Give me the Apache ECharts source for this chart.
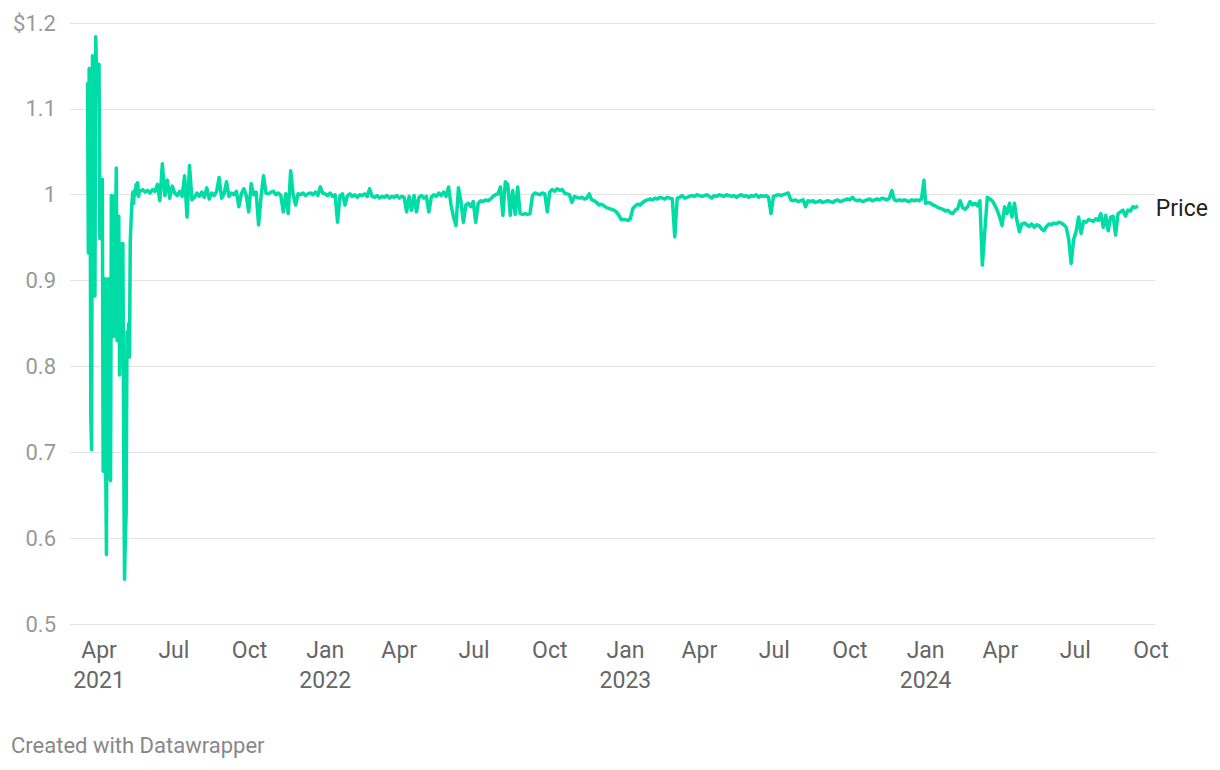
<!DOCTYPE html>
<html><head><meta charset="utf-8">
<script src="https://cdn.jsdelivr.net/npm/echarts@6/dist/echarts.min.js"></script>
<style>html,body{margin:0;padding:0;background:#fff}#c{width:1220px;height:770px}</style>
</head><body><div id="c"></div>
<script>
// ---- data ----
const seriesName = 'Price';
// daily closes, 2021-03-18 .. 2021-05-20
const dailyStart = [2021, 2, 18];
const dailyPrices = [
 1.131,0.932,1.147,1.120,0.740,0.703,1.162,1.100,1.130,0.882,1.184,1.140,1.117,1.150,
 1.152,0.949,0.960,1.000,1.018,0.678,0.750,0.902,0.700,0.581,0.850,0.902,0.700,0.673,0.667,0.999,
 0.980,0.900,0.835,0.999,0.960,1.031,0.830,0.970,0.975,0.790,0.850,0.943,0.940,0.943,
 0.700,0.552,0.600,0.630,0.840,0.820,0.850,0.811,0.946,0.970,0.990,1.003,0.990,1.005,1.000,1.012,
 1.010,1.014,0.998,1.004
];
// every 3 days from the start date of each block
const stepDays = 3;
const start2021 = [2021, 4, 21];
const prices2021 = [
 1.004,1.006,1.003,1.005,1.002,1.006,1.004,1.012,0.993,1.036,0.999,1.017,0.996,1.010,1.002,0.999,
 1.004,0.998,1.022,0.974,1.034,0.994,0.997,1.002,0.998,1.003,0.997,1.008,0.995,1.002,0.999,1.004,
 1.020,0.996,1.001,1.015,0.998,1.002,1.000,1.004,0.986,1.001,1.007,0.999,0.980,1.013,1.000,1.003,
 0.965,0.998,1.022,1.002,1.001,1.003,1.004,1.000,1.002,0.999,0.980,1.001,0.978,1.028,1.000,0.988,
 1.001,1.000,1.002,0.999,1.001,1.002,1.000,1.003,0.999,1.009,1.002
];
const start2022 = [2022, 0, 1];
const prices2022 = [
 1.001,0.999,1.002,0.998,1.000,0.968,0.999,1.001,0.988,0.999,1.001,0.998,1.000,0.997,1.000,0.999,
 1.001,0.998,1.007,0.998,0.997,0.999,0.996,0.998,0.997,0.999,0.996,0.998,0.997,0.999,0.996,0.998,
 0.997,0.980,0.998,0.982,0.999,0.980,0.997,0.999,0.996,0.998,0.980,0.997,1.000,0.998,1.002,0.999,
 1.003,0.998,1.009,0.988,0.974,0.964,1.008,0.992,0.968,0.988,0.990,0.986,0.992,0.968,0.990,0.993,
 0.992,0.994,0.993,0.995,0.998,1.000,1.001,1.009,0.976,1.015,1.012,0.976,1.005,0.977,1.009,0.978,
 0.977,0.978,0.977,0.978,0.999,1.002,1.001,1.000,1.002,1.001,0.980,1.003,1.006,1.004,1.007,1.005,
 1.006,1.002,1.001,1.000,0.991,0.998,0.997,0.996,0.997,0.995,0.996,1.001,0.994,0.993,0.991,0.988,
 0.989,0.987,0.985,0.984,0.983,0.982,0.980,0.976,0.971,0.971
];
const start2023 = [2023, 0, 1];
const prices2023 = [
 0.971,0.970,0.972,0.984,0.987,0.989,0.988,0.991,0.993,0.994,0.995,0.994,0.996,0.995,0.997,0.996,
 0.995,0.997,0.996,0.995,0.951,0.996,0.997,0.999,0.996,0.997,0.998,0.999,0.998,1.000,0.999,0.998,
 0.999,1.000,0.998,0.996,0.999,0.998,1.000,0.999,0.998,1.000,0.999,0.998,0.999,0.997,0.999,1.000,
 0.998,0.999,0.997,0.999,0.998,1.000,0.997,0.999,0.998,0.999,0.997,0.978,0.998,0.999,1.000,0.999,
 1.000,1.001,1.002,0.994,0.993,0.994,0.992,0.993,0.994,0.986,0.993,0.992,0.993,0.991,0.992,0.993,
 0.991,0.992,0.993,0.992,0.991,0.993,0.994,0.992,0.993,0.994,0.995,0.994,0.997,0.994,0.993,0.994,
 0.992,0.993,0.994,0.995,0.993,0.994,0.995,0.994,0.996,0.995,0.994,0.996,1.005,0.994,0.993,0.994,
 0.993,0.994,0.993,0.992,0.994,0.993,0.994,0.993,0.995,1.017
];
const start2024 = [2024, 0, 1];
const prices2024 = [
 0.990,0.991,0.990,0.988,0.987,0.985,0.984,0.983,0.981,0.982,0.979,0.978,0.982,0.984,0.993,0.985,
 0.983,0.986,0.992,0.988,0.990,0.987,0.993,0.918,0.958,0.997,0.995,0.993,0.988,0.982,0.974,0.964,
 0.986,0.978,0.990,0.974,0.990,0.970,0.957,0.966,0.967,0.965,0.963,0.966,0.962,0.965,0.964,0.960,
 0.958,0.963,0.966,0.965,0.967,0.966,0.968,0.967,0.965,0.962,0.948,0.920,0.948,0.957,0.974,0.955,
 0.969,0.968,0.971,0.970,0.969,0.972,0.970,0.978,0.962,0.976,0.958,0.974,0.975,0.953,0.978,0.980,
 0.982,0.975,0.982,0.981,0.986,0.985,0.987
];
// axis ticks
const xTickDates = [[2021,3,1],[2021,6,1],[2021,9,1],[2022,0,1],[2022,3,1],[2022,6,1],[2022,9,1],
 [2023,0,1],[2023,3,1],[2023,6,1],[2023,9,1],[2024,0,1],[2024,3,1],[2024,6,1],[2024,9,1]];
const xTickLabels = ['Apr\n2021','Jul','Oct','Jan\n2022','Apr','Jul','Oct','Jan\n2023','Apr','Jul','Oct','Jan\n2024','Apr','Jul','Oct'];
const yTickLabels = ['0.5','0.6','0.7','0.8','0.9','1','1.1','$1.2'];
const footerText = 'Created with Datawrapper';

// ---- build ----
function d(a, add) { return Date.UTC(a[0], a[1], a[2] + (add || 0)); }
const points = [];
dailyPrices.forEach((v, i) => points.push([d(dailyStart, i), v]));
[[start2021, prices2021], [start2022, prices2022], [start2023, prices2023], [start2024, prices2024]].forEach(([s, arr]) => {
  arr.forEach((v, i) => points.push([d(s, i * stepDays), v]));
});
const tickVals = xTickDates.map(t => d(t));
const DAY = 86400000;
const xMin = d([2021,3,1]) - 35.3 * DAY;
const xMax = d([2024,9,1]) + 4.9 * DAY;
function xLabel(v) {
  let best = 0, bd = Infinity;
  tickVals.forEach((t, i) => { const dd = Math.abs(t - v); if (dd < bd) { bd = dd; best = i; } });
  return bd < DAY ? xTickLabels[best] : '';
}

const chart = echarts.init(document.getElementById('c'), null, { renderer: 'svg' });
chart.setOption({
  animation: false,
  backgroundColor: '#fff',
  textStyle: { fontFamily: 'Roboto' },
  grid: { left: 70, right: 65, top: 23, bottom: 146, containLabel: false },
  xAxis: {
    type: 'value', min: xMin, max: xMax, scale: true,
    axisLine: { show: false }, axisTick: { show: false }, splitLine: { show: false },
    axisLabel: {
      customValues: tickVals,
      formatter: v => xLabel(v),
      color: '#666', fontSize: 23, lineHeight: 30, margin: 11, fontFamily: 'Roboto',
      showMinLabel: true, showMaxLabel: true, hideOverlap: false
    }
  },
  yAxis: {
    type: 'value', min: 0.5, max: 1.2, interval: 0.1,
    axisLine: { show: false }, axisTick: { show: false },
    splitLine: { lineStyle: { color: '#e3e3e3', width: 1 } },
    axisLabel: {
      formatter: v => yTickLabels[Math.round((v - 0.5) * 10)],
      color: '#999', fontSize: 22, margin: 14, fontFamily: 'Roboto'
    }
  },
  series: [{
    name: seriesName, type: 'line', data: points, showSymbol: false,
    lineStyle: { color: '#00dca5', width: 3.5, join: 'round' },
    itemStyle: { color: '#00dca5' },
    endLabel: { show: true, formatter: seriesName, color: '#222', fontSize: 23, distance: 18, offset: [0, 3], fontFamily: 'Roboto' }
  }],
  graphic: [{
    type: 'text', left: 11, top: 734,
    style: { text: footerText, fill: '#888', fontSize: 22, fontFamily: 'Roboto' }
  }]
});
</script></body></html>
